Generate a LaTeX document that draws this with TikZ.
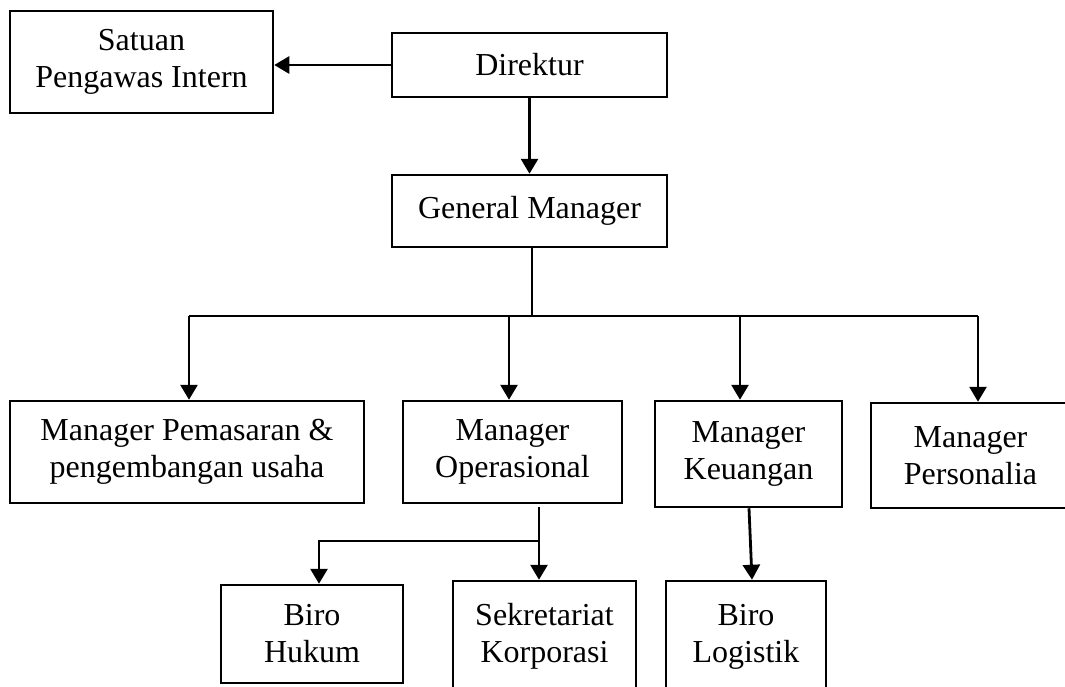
\documentclass[tikz,border=0pt]{standalone}
\usepackage{fontspec}
\setmainfont{Liberation Serif}
\usetikzlibrary{arrows.meta}
\begin{document}
\begin{tikzpicture}[x=1pt,y=-1pt,
  box/.style={draw,line width=2.5pt,align=center,inner sep=0pt,
    font=\fontsize{32}{37}\selectfont},
  conn/.style={line width=2.8pt},
  arr/.style={conn,-{Triangle[length=15pt,width=17pt]}}]
\useasboundingbox (0,0) rectangle (1065,686);
\node[box,minimum width=263pt,minimum height=102pt] (spi) at (141.5,62) {Satuan\\Pengawas Intern};
\node[box,minimum width=275pt,minimum height=64pt] (dir) at (529.5,65) {Direktur};
\node[box,minimum width=275pt,minimum height=72pt] (gm) at (529.5,211) {General Manager};
\node[box,minimum width=354pt,minimum height=102pt] (pem) at (187,452) {Manager Pemasaran \&\\pengembangan usaha};
\node[box,minimum width=219pt,minimum height=102pt] (ops) at (512.5,452) {Manager\\Operasional};
\node[box,minimum width=187pt,minimum height=106pt] (keu) at (748.5,454) {Manager\\Keuangan};
\node[box,minimum width=199pt,minimum height=105pt] (pers) at (970.5,455.5) {Manager\\Personalia};
\node[box,minimum width=182pt,minimum height=98pt] (huk) at (312,634) {Biro\\Hukum};
\node[box,minimum width=183pt,minimum height=111pt] (sek) at (544.5,636.5) {Sekretariat\\Korporasi};
\node[box,minimum width=160pt,minimum height=111pt] (log) at (746,636.5) {Biro\\Logistik};
% connectors
\coordinate (bus) at (0,316);
\coordinate (br) at (0,541);
\draw[arr] (dir.west) -- (spi.east |- dir.west);
\draw[arr] (dir.south) -- (gm.north);
\draw[conn] ([xshift=2.5pt]gm.south) -- ([xshift=2.5pt]gm.south |- bus);
\draw[conn] ([xshift=2pt]pem.north |- bus) -- ([xshift=7.5pt]pers.north |- bus);
\draw[arr] ([xshift=2pt]pem.north |- bus) -- ([xshift=2pt]pem.north);
\draw[arr] ([xshift=-3.5pt]ops.north |- bus) -- ([xshift=-3.5pt]ops.north);
\draw[arr] ([xshift=-8.5pt]keu.north |- bus) -- ([xshift=-8.5pt]keu.north);
\draw[arr] ([xshift=7.5pt]pers.north |- bus) -- ([xshift=7.5pt]pers.north);
\draw[arr] ([xshift=26.5pt,yshift=-3pt]ops.south) -- ([xshift=-5.5pt]sek.north);
\draw[arr] ([xshift=-5.5pt]sek.north |- br) -| ([xshift=7pt]huk.north);
\draw[arr] ([xshift=0.5pt]keu.south) -- ([xshift=6pt]log.north);
\end{tikzpicture}
\end{document}
